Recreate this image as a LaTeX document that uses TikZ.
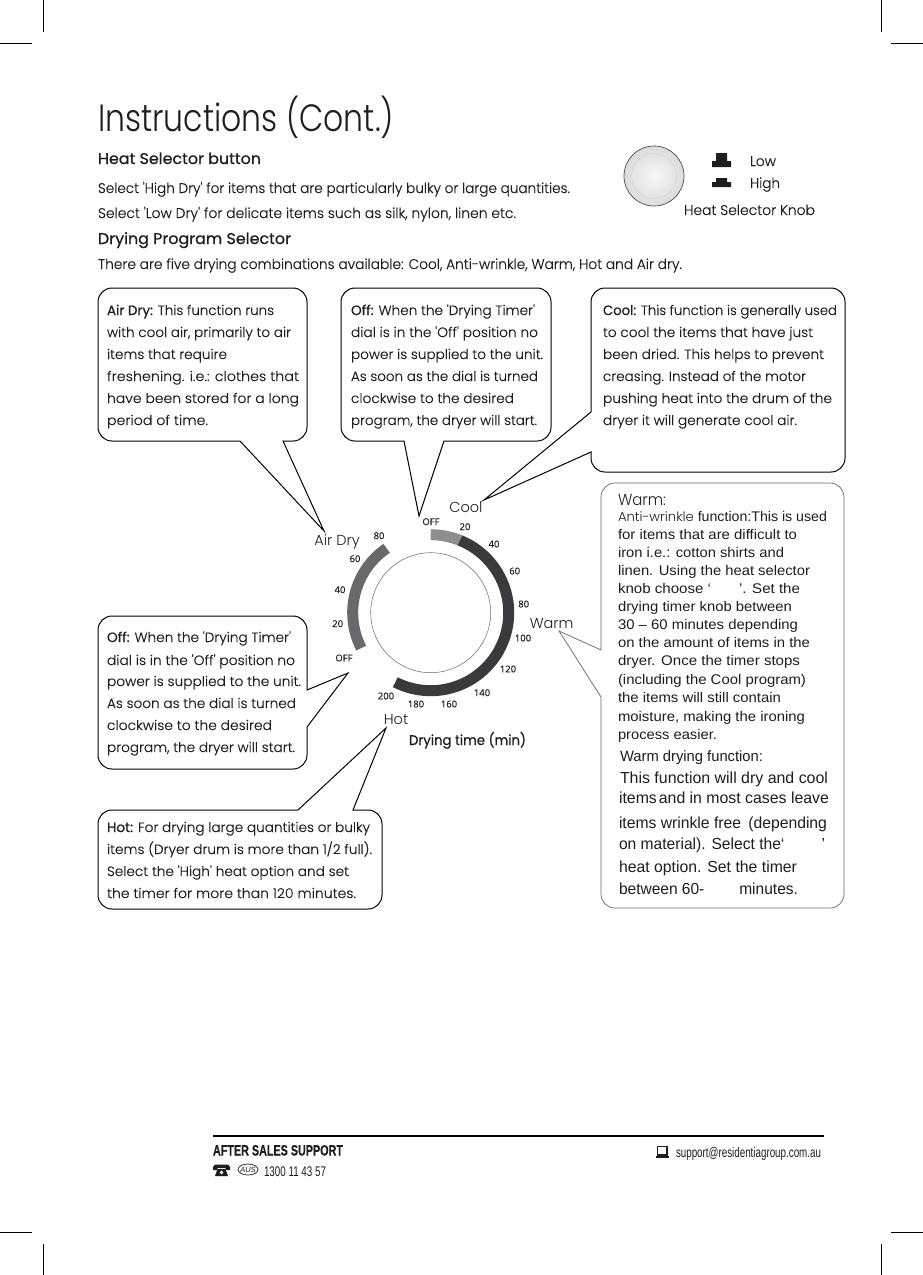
\documentclass[tikz,border=0pt]{standalone}
\usepackage{graphicx}
\usepackage{fontspec}
\setmainfont{Poppins}
\newfontfamily\titlef{Poppins Light}
\newfontfamily\lightf[FakeBold=0.25]{Poppins Light}
\newfontfamily\helv{Liberation Sans}
\newfontfamily\dialf{Open Sans}
\usetikzlibrary{calc}
\definecolor{ink}{HTML}{1E1E1E}
\definecolor{ringdark}{HTML}{3A3A3C}
\definecolor{ringcool}{HTML}{8E8E8E}
\definecolor{ringmid}{HTML}{69696B}
\tikzset{
 every node/.style={inner sep=0pt,outer sep=0pt,text=ink},
 txt/.style={anchor=base west},
 callout/.style={draw=black,line width=1pt,fill=white},
 calloutthin/.style={draw=black!60,line width=.7pt,fill=white},
 round/.style={rounded corners=14pt},
 ring/.style={line width=11pt,line cap=butt},
 crop/.style={draw=black,line width=.8pt},
 dial/.style={font=\dialf\fontsize{9.5}{11}\selectfont\addfontfeature{FakeBold=0.2},anchor=center},
 lab/.style={font=\titlef\fontsize{14.5}{16}\selectfont,anchor=center}
}
\newcounter{ln}
\newcommand{\Fit}[4]{%
 \stepcounter{ln}%
 \pgfmathsetlengthmacro{\fw}{#3-#1}%
 \node[txt] (t\arabic{ln}) at (#1,#2) {\resizebox{\fw}{\height}{\curf #4}};}
\newcommand{\Sz}[2][\rmfamily]{\def\curf{#1\fontsize{#2}{#2}\selectfont}}
\begin{document}
\begin{tikzpicture}[x=1pt,y=-1pt]
\useasboundingbox (0,0) rectangle (923,1275);
\fill[white] (0,0) rectangle (923,1275);
% crop marks
\draw[crop] (43,0)--(43,32) (881,0)--(881,32) (0,43)--(32,43) (891,43)--(923,43)
 (43,1244)--(43,1275) (881,1244)--(881,1275) (0,1232)--(32,1232) (891,1232)--(923,1232);
% headings
\Sz[\titlef]{38}\Fit{98}{131}{394}{Instructions (Cont.)}
\Sz{15.5}\Fit{98}{164}{261}{\addfontfeature{FakeBold=0.8}Heat Selector button}
\Fit{98}{244}{291}{\addfontfeature{FakeBold=0.8}Drying Program Selector}
\Sz[\lightf]{14}
\Fit{98}{193}{570}{Select 'High Dry' for items that are particularly bulky or large quantities.}
\Fit{98}{218}{516}{Select 'Low Dry' for delicate items such as silk, nylon, linen etc.}
\Fit{98}{269}{682}{There are five drying combinations available: Cool, Anti-wrinkle, Warm, Hot and Air dry.}
% knob
\shade[inner color=white!97!black,outer color=black!14,draw=black!70,line width=.7pt] (654,176) circle (30);
\draw[black!25,line width=.5pt,densely dotted] (654,176) circle (22.5);
\fill[ink] (716,153) rectangle (727,161) (712,161) rectangle (731,167);
\fill[ink] (716,178) rectangle (727,182) (712,182) rectangle (731,187);
\Sz[\lightf]{14}
\Fit{750}{166}{776}{Low}
\Fit{750}{188}{780}{High}
\Fit{684}{215}{815}{Heat Selector Knob}
% callouts
\path[callout] (240,441) [round] -- (98,441) -- (98,288) -- (307,288) -- (307,441) [sharp corners] -- (283,441) -- (324,531) -- cycle;
\path[callout] (404,441) [round] -- (341,441) -- (341,288) -- (551,288) -- (551,441) [sharp corners] -- (444,441) -- (419,516) -- cycle;
\path[callout] (591,412) [round] -- (591,288) -- (845,288) -- (845,472) -- (591,472) [sharp corners] -- (591,452) -- (484,500) -- cycle;
\path[calloutthin] (601,650) [round] -- (601,483) -- (844,483) -- (844,908) -- (601,908) [sharp corners] -- (601,697) -- (559,631) -- cycle;
\path[callout] (307,690) [round] -- (307,616) -- (98,616) -- (98,769) -- (307,769) [sharp corners] -- (307,727) -- (348,673) -- cycle;
\path[callout] (298,810) [round] -- (98,810) -- (98,909) -- (382,909) -- (382,810) [sharp corners] -- (353,810) -- (386,728) -- cycle;
% callout text
\def\B#1{{\rmfamily\addfontfeature{FakeBold=0.5}#1}}
\Sz[\lightf]{13.5}
\Fit{107}{315}{274}{\B{Air Dry:} This function runs}
\Fit{107}{337}{291}{with cool air, primarily to air}
\Fit{107}{359}{227}{items that require}
\Fit{107}{381}{299}{freshening. i.e.: clothes that}
\Fit{107}{403}{299}{have been stored for a long}
\Fit{107}{425}{208}{period of time.}
\Fit{351}{315}{535}{\B{Off:} When the 'Drying Timer'}
\Fit{351}{337}{538}{dial is in the 'Off' position no}
\Fit{351}{359}{543}{power is supplied to the unit.}
\Fit{351}{381}{538}{As soon as the dial is turned}
\Fit{351}{403}{514}{clockwise to the desired}
\Fit{351}{425}{537}{program, the dryer will start.}
\Fit{603}{315}{837}{\B{Cool:} This function is generally used}
\Fit{603}{337}{813}{to cool the items that have just}
\Fit{603}{359}{824}{been dried. This helps to prevent}
\Fit{603}{381}{806}{creasing. Instead of the motor}
\Fit{603}{403}{832}{pushing heat into the drum of the}
\Fit{603}{425}{797}{dryer it will generate cool air.}
\Fit{107}{642}{291}{\B{Off:} When the 'Drying Timer'}
\Fit{107}{665}{295}{dial is in the 'Off' position no}
\Fit{107}{686}{301}{power is supplied to the unit.}
\Fit{107}{708}{296}{As soon as the dial is turned}
\Fit{107}{730}{272}{clockwise to the desired}
\Fit{107}{752}{295}{program, the dryer will start.}
\Fit{107}{832}{370}{\B{Hot:} For drying large quantities or bulky}
\Fit{107}{854}{372}{items (Dryer drum is more than 1/2 full).}
\Fit{107}{876}{349}{Select the 'High' heat option and set}
\Fit{107}{898}{356}{the timer for more than 120 minutes.}
% warm text
\Sz[\titlef]{16}\Fit{618}{505}{666}{Warm:}
\Sz[\helv]{14}
\Fit{618}{521}{827}{{\titlef\fontsize{13}{13}\selectfont Anti-wrinkle} function:This is used}
\Fit{618}{539}{797}{for items that are difficult to}
\Fit{618}{557}{784}{iron i.e.: cotton shirts and}
\Fit{618}{575}{810}{linen. Using the heat selector}
\Fit{618}{593}{800}{knob choose ‘\hspace{26pt}’. Set the}
\Fit{618}{611}{792}{drying timer knob between}
\Fit{618}{629}{798}{30 – 60 minutes depending}
\Fit{618}{647}{810}{on the amount of items in the}
\Fit{618}{665}{800}{dryer. Once the timer stops}
\Fit{618}{684}{806}{(including the Cool program)}
\Fit{618}{702}{781}{the items will still contain}
\Fit{618}{721}{805}{moisture, making the ironing}
\Fit{618}{739}{717}{process easier.}
\Sz[\helv]{15}
\Fit{620}{761}{763}{Warm drying function:}
\Sz[\helv]{16}
\Fit{620}{783}{828}{This function will dry and cool}
\Fit{619}{803}{829}{items\hspace{2pt}and in most cases leave}
\Fit{619}{828}{827}{items wrinkle free\hspace{3pt} (depending}
\Fit{619}{849}{825}{on material). Select the‘\hspace{38pt}’}
\Fit{619}{872}{797}{heat option. Set the timer}
\Fit{619}{894}{798}{between 60-\hspace{36pt}minutes.}
% dial
\draw[black!60,line width=.5pt] (430.7,612.7) circle (60);
\draw[ring,ringcool] ($(430.7,612.7)+(0,-78)$) arc[start angle=-90,end angle=-68,radius=78];
\draw[ring,ringdark] ($(430.7,612.7)+(68:78 and -78)$) arc[start angle=-68,end angle=117,radius=78];
\draw[ring,ringmid] ($(430.7,612.7)+(124.4:78 and -78)$) arc[start angle=-124.4,end angle=-207,radius=78];
\node[dial] (d0) at (431,521.7) {OFF};
\node[dial] (d1) at (465,526.7) {20};
\node[dial] (d2) at (494,544) {40};
\node[dial] (d3) at (514.7,571) {60};
\node[dial] (d4) at (523.7,604) {80};
\node[dial] (d5) at (523,638) {100};
\node[dial] (d6) at (508,669) {120};
\node[dial] (d7) at (482,692.7) {140};
\node[dial] (d8) at (449,704) {160};
\node[dial] (d9) at (416,704) {180};
\node[dial] (d10) at (386,696) {200};
\node[dial] (d11) at (379,535.7) {80};
\node[dial] (d12) at (355,558.7) {60};
\node[dial] (d13) at (340,589.7) {40};
\node[dial] (d14) at (337.7,623.7) {20};
\node[dial] (d15) at (344,658) {OFF};
\node[lab] (lcool) at (466,507) {Cool};
\node[lab] (lair) at (337,542) {Air Dry};
\node[lab] (lwarm) at (551.7,623.7) {Warm};
\node[lab] (lhot) at (396,719.7) {Hot};
\Sz{14}\Fit{409}{745}{526}{\addfontfeature{FakeBold=0.6}Drying time (min)}
% footer
\draw[black,line width=2.2pt] (213,1136)--(824,1136);
\Sz[\helv]{15}\Fit{213}{1155.5}{343}{\bfseries\addfontfeature{FakeBold=0.3}AFTER SALES SUPPORT}
\Sz[\helv]{14}\Fit{264}{1176.5}{326}{1300 11 43 57}
\Fit{676}{1157}{821}{support@residentiagroup.com.au}
% phone icon
\fill[ink] (213,1167) -- (215,1164.5) -- (228,1164.5) -- (230,1167) -- (230,1170) -- (226,1170) -- (225.5,1168) -- (217.5,1168) -- (217,1170) -- (213,1170) -- cycle;
\fill[ink] (217.5,1169) -- (225.5,1169) -- (228,1176) -- (215,1176) -- cycle;
\fill[white] (221.5,1172.5) circle (1.8);
\draw[ink,line width=.7pt] (248,1169.5) ellipse (10 and 5.5);
\node[font=\helv\fontsize{7.5}{8}\selectfont] (aus) at (248,1169.5) {\itshape AUS};
% laptop icon
\draw[ink,line width=1.1pt] (657.5,1146.5) rectangle (667,1155);
\fill[ink] (655.5,1155.5) rectangle (669,1158);
\end{tikzpicture}
\end{document}
